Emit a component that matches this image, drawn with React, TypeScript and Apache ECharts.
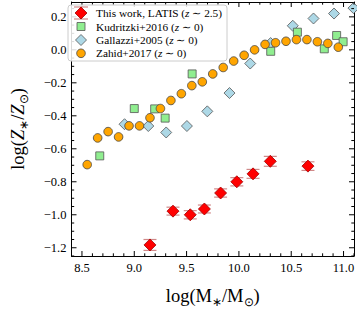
import React, { useEffect, useRef } from "react";
import * as echarts from "echarts";

// ---- data ----
const latisX = [9.15, 9.37, 9.535, 9.67, 9.825, 9.98, 10.135, 10.30, 10.66];
const latisY = [-1.183, -0.978, -1.0, -0.965, -0.868, -0.80, -0.752, -0.676, -0.705];
const latisErr = [0.033, 0.024, 0.025, 0.024, 0.025, 0.025, 0.027, 0.03, 0.026];

const kudX = [8.67, 9.0, 9.195, 9.295, 9.553, 10.304, 10.559, 10.816, 10.934, 10.996];
const kudY = [-0.643, -0.356, -0.358, -0.414, -0.146, -0.009, 0.107, 0.006, 0.087, 0.049];

const galX = [8.907, 9.134, 9.305, 9.503, 9.698, 9.91, 10.108, 10.303, 10.515, 10.713, 10.909, 11.095];
const galY = [-0.451, -0.462, -0.501, -0.462, -0.373, -0.262, -0.083, 0.041, 0.146, 0.19, 0.22, 0.253];

const zahX = [8.55, 8.65, 8.75, 8.85, 8.95, 9.05, 9.15, 9.25, 9.35, 9.45, 9.55, 9.65, 9.75, 9.85, 9.95, 10.05, 10.15, 10.25, 10.35, 10.45, 10.55, 10.65, 10.75, 10.85, 10.95];
const zahY = [-0.696, -0.534, -0.496, -0.528, -0.461, -0.461, -0.412, -0.356, -0.307, -0.266, -0.217, -0.194, -0.146, -0.107, -0.068, -0.033, 0.0, 0.033, 0.043, 0.052, 0.062, 0.062, 0.049, 0.039, 0.016];

const xTicks = [8.5, 9.0, 9.5, 10.0, 10.5, 11.0];
const yTicks = [-1.2, -1.0, -0.8, -0.6, -0.4, -0.2, 0.0, 0.2];

const legendLabels = ["This work, LATIS", "Kudritzki+2016", "Gallazzi+2005", "Zahid+2017"];
const legendZ = ["2.5", "0", "0", "0"];

const X_MIN = 8.4, X_MAX = 11.1, Y_MIN = -1.25, Y_MAX = 0.29;

const xMinor: number[] = [];
for (let i = 84; i <= 111; i++) xMinor.push(i / 10);
const yMinor: number[] = [];
for (let i = -25; i <= 5; i++) yMinor.push(i / 20);

const FONT = "Liberation Serif";

function fmt(v: number) {
  return v.toFixed(1).replace("-", "\u2212");
}

export default function App() {
  const ref = useRef<HTMLDivElement>(null);
  useEffect(() => {
    if (!ref.current) return;
    const chart = echarts.init(ref.current, undefined, { renderer: "svg" });

    const MAJ = 5, MIN = 2.7;
    // tick data: [x, y, length, kind]  kind 0 = x tick, 1 = y tick
    const tickData: number[][] = [];
    xTicks.forEach((v) => tickData.push([v, Y_MIN, MAJ, 0]));
    xMinor.forEach((v) => {
      if (!xTicks.some((t) => Math.abs(t - v) < 1e-6)) tickData.push([v, Y_MIN, MIN, 0]);
    });
    yTicks.forEach((v) => tickData.push([X_MIN, v, MAJ, 1]));
    yMinor.forEach((v) => {
      if (!yTicks.some((t) => Math.abs(t - v) < 1e-6)) tickData.push([X_MIN, v, MIN, 1]);
    });

    const NAME = 18.5, SUB = 12;
    const xAxis = {
      type: "value", min: X_MIN, max: X_MAX, position: "bottom",
      splitLine: { show: false },
      axisLine: { show: true, onZero: false, lineStyle: { color: "#000", width: 1 } },
      axisTick: { show: false },
      axisLabel: { show: true, customValues: xTicks, formatter: fmt, fontFamily: FONT, fontSize: 12.5, color: "#000", margin: 5 },
      name: "{n|log(M}{s|\u2217}{n|/M}{s|\u2299}{n|)}",
      nameLocation: "middle",
      nameGap: 28,
      nameTextStyle: {
        rich: {
          n: { fontFamily: FONT, fontSize: NAME, color: "#000", lineHeight: 24 },
          s: { fontFamily: FONT, fontSize: SUB, color: "#000", lineHeight: 24, verticalAlign: "bottom" },
        },
      },
    };
    const xAxisTop = {
      type: "value", min: X_MIN, max: X_MAX, position: "top",
      splitLine: { show: false },
      axisLine: { show: true, onZero: false, lineStyle: { color: "#000", width: 1 } },
      axisTick: { show: false }, axisLabel: { show: false },
    };
    const yAxis = {
      type: "value", min: Y_MIN, max: Y_MAX, position: "left",
      splitLine: { show: false },
      axisLine: { show: true, onZero: false, lineStyle: { color: "#000", width: 1 } },
      axisTick: { show: false },
      axisLabel: { show: true, customValues: yTicks, formatter: fmt, fontFamily: FONT, fontSize: 12.5, color: "#000", margin: 5 },
      name: "{n|log(}{i|Z}{s|\u2217}{n|/}{i|Z}{s|\u2299}{n|)}",
      nameLocation: "middle",
      nameGap: 42,
      nameRotate: 90,
      nameTextStyle: {
        rich: {
          n: { fontFamily: FONT, fontSize: NAME, color: "#000", lineHeight: 24 },
          i: { fontFamily: FONT, fontStyle: "italic", fontSize: NAME, color: "#000", lineHeight: 24 },
          s: { fontFamily: FONT, fontSize: SUB, color: "#000", lineHeight: 24, verticalAlign: "bottom" },
        },
      },
    };
    const yAxisRight = {
      type: "value", min: Y_MIN, max: Y_MAX, position: "right",
      splitLine: { show: false },
      axisLine: { show: true, onZero: false, lineStyle: { color: "#000", width: 1 } },
      axisTick: { show: false }, axisLabel: { show: false },
    };

    const pair = (xs: number[], ys: number[]) => xs.map((x, i) => [x, ys[i]]);

    const errColor = "rgba(170,40,40,0.55)";

    // legend drawn as graphic
    const LX = 68, LY = 5, LW = 159, LH = 56;
    const rowY = [13, 26.5, 40, 53.3];
    const mx = 81, tx = 96;
    const legendGraphic: any[] = [
      {
        type: "rect", shape: { x: LX, y: LY, width: LW, height: LH, r: 3 },
        style: { fill: "rgba(255,255,255,0.85)", stroke: "#cccccc", lineWidth: 1 }, z: 100,
      },
      { type: "line", shape: { x1: mx, y1: rowY[0] - 6, x2: mx, y2: rowY[0] + 6 }, style: { stroke: errColor, lineWidth: 1.2 }, z: 101 },
      { type: "line", shape: { x1: mx - 7, y1: rowY[0] - 6, x2: mx + 7, y2: rowY[0] - 6 }, style: { stroke: errColor, lineWidth: 1.2 }, z: 101 },
      { type: "line", shape: { x1: mx - 7, y1: rowY[0] + 6, x2: mx + 7, y2: rowY[0] + 6 }, style: { stroke: errColor, lineWidth: 1.2 }, z: 101 },
      {
        type: "polygon", shape: { points: [[mx, rowY[0] - 6], [mx + 6, rowY[0]], [mx, rowY[0] + 6], [mx - 6, rowY[0]]] },
        style: { fill: "#ff0000", stroke: "#a00000", lineWidth: 0.8 }, z: 102,
      },
      {
        type: "rect", shape: { x: mx - 4, y: rowY[1] - 4, width: 8, height: 8 },
        style: { fill: "#90ee90", stroke: "#555555", lineWidth: 0.8 }, z: 102,
      },
      {
        type: "polygon", shape: { points: [[mx, rowY[2] - 5.5], [mx + 5.5, rowY[2]], [mx, rowY[2] + 5.5], [mx - 5.5, rowY[2]]] },
        style: { fill: "#add8e6", stroke: "#555555", lineWidth: 0.8 }, z: 102,
      },
      {
        type: "circle", shape: { cx: mx, cy: rowY[3], r: 4.3 },
        style: { fill: "#ffa500", stroke: "#444444", lineWidth: 0.8 }, z: 102,
      },
    ];
    legendLabels.forEach((lab, k) => {
      legendGraphic.push({
        type: "text", x: tx, y: rowY[k], z: 102,
        style: {
          text: `{n|${lab} (}{i|z}{n| \u223c ${legendZ[k]})}`,
          verticalAlign: "middle", align: "left",
          rich: {
            n: { fontFamily: FONT, fontSize: 11.3, fill: "#000" },
            i: { fontFamily: FONT, fontStyle: "italic", fontSize: 11.3, fill: "#000" },
          },
        },
      });
    });

    const option: any = {
      animation: false,
      grid: { left: 64, top: 2, width: 290, height: 264, containLabel: false },
      xAxis: [xAxis, xAxisTop],
      yAxis: [yAxis, yAxisRight],
      series: [
        {
          type: "custom", name: "ticks", z: 10, silent: true, clip: false,
          data: tickData,
          encode: { x: 0, y: 1 },
          renderItem: (params: any, api: any) => {
            const x = api.value(0), y = api.value(1), len = api.value(2), kind = api.value(3);
            const st = { stroke: "#000", lineWidth: 1 };
            if (kind === 0) {
              const b = api.coord([x, Y_MIN]);
              const t = api.coord([x, Y_MAX]);
              return {
                type: "group",
                children: [
                  { type: "line", shape: { x1: b[0], y1: b[1], x2: b[0], y2: b[1] - len }, style: st },
                  { type: "line", shape: { x1: t[0], y1: t[1], x2: t[0], y2: t[1] + len }, style: st },
                ],
              };
            }
            const l = api.coord([X_MIN, y]);
            const r = api.coord([X_MAX, y]);
            return {
              type: "group",
              children: [
                { type: "line", shape: { x1: l[0], y1: l[1], x2: l[0] + len, y2: l[1] }, style: st },
                { type: "line", shape: { x1: r[0], y1: r[1], x2: r[0] - len, y2: r[1] }, style: st },
              ],
            };
          },
        },
        {
          type: "scatter", name: "Gallazzi+2005", data: pair(galX, galY),
          symbol: "diamond", symbolSize: 11, z: 2,
          itemStyle: { color: "#add8e6", borderColor: "#555555", borderWidth: 0.8, opacity: 1 },
        },
        {
          type: "scatter", name: "Kudritzki+2016", data: pair(kudX, kudY),
          symbol: "rect", symbolSize: 8, z: 3,
          itemStyle: { color: "#90ee90", borderColor: "#555555", borderWidth: 0.8, opacity: 1 },
        },
        {
          type: "scatter", name: "Zahid+2017", data: pair(zahX, zahY),
          symbol: "circle", symbolSize: 8.6, z: 4,
          itemStyle: { color: "#ffa500", borderColor: "#444444", borderWidth: 0.8, opacity: 1 },
        },
        {
          type: "custom", name: "LATIS err", z: 5,
          data: latisX.map((x, i) => [x, latisY[i], latisErr[i]]),
          encode: { x: 0, y: 1 },
          renderItem: (params: any, api: any) => {
            const x = api.value(0), y = api.value(1), e = api.value(2);
            const t = api.coord([x, y + e]);
            const b = api.coord([x, y - e]);
            const w = 6.5;
            const st = { stroke: errColor, lineWidth: 1.2, fill: "none" };
            return {
              type: "group",
              children: [
                { type: "line", shape: { x1: t[0], y1: t[1], x2: b[0], y2: b[1] }, style: st },
                { type: "line", shape: { x1: t[0] - w, y1: t[1], x2: t[0] + w, y2: t[1] }, style: st },
                { type: "line", shape: { x1: b[0] - w, y1: b[1], x2: b[0] + w, y2: b[1] }, style: st },
              ],
            };
          },
        },
        {
          type: "scatter", name: "This work, LATIS", data: pair(latisX, latisY),
          symbol: "diamond", symbolSize: 12, z: 6,
          itemStyle: { color: "#ff0000", borderColor: "#a00000", borderWidth: 0.8, opacity: 1 },
        },
      ],
      graphic: legendGraphic,
    };
    chart.setOption(option);
    return () => chart.dispose();
  }, []);

  return <div ref={ref} style={{ width: 357, height: 313, position: "absolute", left: 0, top: 0, background: "#fff" }} />;
}
